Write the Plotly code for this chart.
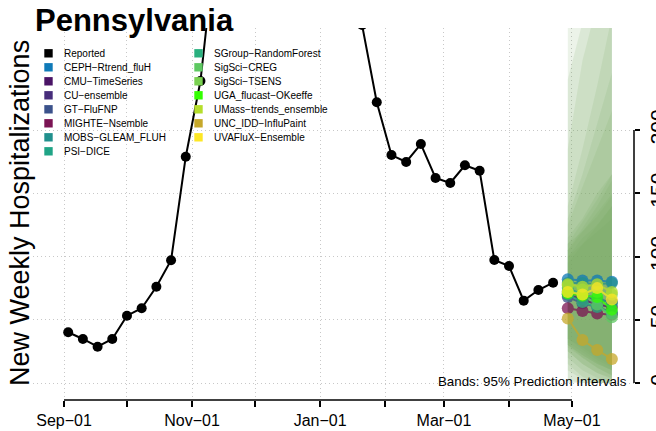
import plotly.graph_objects as go
import pandas as pd

# ---------------- data ----------------
state = "Pennsylvania"
obs_dates = pd.date_range("2022-09-03", "2023-04-22", freq="7D")
obs_values = [40.1, 34.8, 28.7, 34.8, 53.2, 59.1, 76.1, 97.0, 178.9, 238.7,
              344, 450, 560, 690, 760, 700, 610, 520, 430, 360, 283,
              221.9, 180.2, 174.7, 188.9, 162.1, 158.1, 172.1, 167.8,
              97.2, 92.5, 65.1, 73.5, 79.3]

fc_dates = ["2023-04-29", "2023-05-06", "2023-05-13", "2023-05-20"]

models = ["CEPH−Rtrend_fluH", "CMU−TimeSeries", "CU−ensemble", "GT−FluFNP",
          "MIGHTE−Nsemble", "MOBS−GLEAM_FLUH", "PSI−DICE", "SGroup−RandomForest",
          "SigSci−CREG", "SigSci−TSENS", "UGA_flucast−OKeeffe",
          "UMass−trends_ensemble", "UNC_IDD−InfluPaint", "UVAFluX−Ensemble"]
model_colors = ["#0f7ab8", "#4a1466", "#472d7b", "#3b528b", "#7b1454", "#21908d",
                "#20a486", "#2ab07f", "#5ec962", "#7ad151", "#33ff00", "#b5de2b",
                "#c6a82a", "#fde725"]

fc_median = [[82, 81, 81, 80], [70, 66, 62, 60], [72, 68, 66, 64], [68, 63, 60, 56],
             [59, 57, 55, 54], [79, 79, 78, 79], [75, 70, 67, 63], [70, 64, 60, 55],
             [73, 70, 62, 52], [77, 74, 72, 70], [71, 69, 68, 58], [78, 76, 78, 72],
             [51, 34, 26, 19], [72, 70, 75, 66]]
fc_lower = [[30, 22, 15, 10], [25, 15, 8, 3], [30, 22, 15, 10], [15, 5, 0, 0],
            [25, 15, 8, 4], [10, 3, 0, 0], [28, 20, 12, 6], [20, 10, 4, 0],
            [35, 26, 18, 12], [32, 24, 16, 10], [0, 0, 0, 0], [35, 28, 20, 14],
            [2, 0, 0, 0], [30, 20, 12, 6]]
fc_upper = [[125, 155, 185, 215], [105, 120, 135, 150], [100, 115, 125, 140],
            [140, 185, 235, 290], [95, 110, 125, 140], [290, 300, 310, 320],
            [115, 130, 150, 165], [130, 165, 205, 245], [100, 110, 120, 130],
            [110, 128, 145, 165], [185, 255, 300, 340], [110, 120, 132, 148],
            [240, 285, 330, 380], [105, 122, 140, 160]]

month_ticks = pd.date_range("2022-09-01", "2023-05-01", freq="MS")
month_labels = ["Sep−01", "", "Nov−01", "", "Jan−01", "", "Mar−01", "", "May−01"]
y_ticks = [0, 50, 100, 150, 200]
y_labels = ["0", "50", "100", "150", "200"]

# ---------------- layout geometry (pixels) ----------------
W_FIG, H_FIG = 656, 431
L, R, T, B = 33, 634, 28, 400
PW, PH = R - L, B - T


def px(x):
    return (x - L) / PW


def py(y):
    return (B - y) / PH


FONT = "Liberation Sans, Arial, Helvetica, sans-serif"
BAND = "rgba(122,172,96,0.14)"

fig = go.Figure()

# prediction bands
for i, m in enumerate(models):
    fig.add_trace(go.Scatter(
        x=fc_dates + fc_dates[::-1],
        y=fc_upper[i] + fc_lower[i][::-1],
        fill="toself", fillcolor=BAND, line=dict(width=0),
        mode="lines", hoverinfo="skip", showlegend=False))

# reported
fig.add_trace(go.Scatter(
    x=obs_dates, y=obs_values, mode="lines+markers",
    line=dict(color="black", width=2),
    marker=dict(color="black", size=10),
    name="Reported", showlegend=False))

# forecasts
for i, m in enumerate(models):
    fig.add_trace(go.Scatter(
        x=fc_dates, y=fc_median[i], mode="lines+markers",
        line=dict(color=model_colors[i], width=2),
        marker=dict(color=model_colors[i], size=12),
        opacity=0.75, name=m, showlegend=False))

# ---------------- manual legend ----------------
shapes = []
annotations = []
legend_names = ["Reported"] + models
legend_colors = ["black"] + model_colors
for k, (nm, col) in enumerate(zip(legend_names, legend_colors)):
    c = 0 if k < 8 else 1
    r = k if k < 8 else k - 8
    sx = 44.3 if c == 0 else 194.3
    cy = 53.3 + 14 * r
    shapes.append(dict(type="rect", xref="paper", yref="paper",
                       x0=px(sx), x1=px(sx + 8.4), y0=py(cy + 4.2), y1=py(cy - 4.2),
                       fillcolor=col, line=dict(width=0), layer="above"))
    annotations.append(dict(text=nm, xref="paper", yref="paper",
                            x=px(sx + 17.5), y=py(cy), xanchor="left", yanchor="middle",
                            showarrow=False, font=dict(family=FONT, size=10, color="black")))

# axis lines drawn only across tick range (R style)
shapes.append(dict(type="line", xref="x", yref="paper",
                   x0=month_ticks[0], x1=month_ticks[-1], y0=0, y1=0,
                   line=dict(color="black", width=1.5), layer="above"))
shapes.append(dict(type="line", xref="paper", yref="y",
                   x0=1, x1=1, y0=y_ticks[0], y1=y_ticks[-1],
                   line=dict(color="black", width=1.5), layer="above"))

# title
annotations.append(dict(text="<b>" + state + "</b>", xref="paper", yref="paper",
                        x=px(33), y=py(20), xanchor="left", yanchor="middle",
                        showarrow=False, font=dict(family=FONT, size=31, color="black")))
# y title
annotations.append(dict(text="New Weekly Hospitalizations", xref="paper", yref="paper",
                        x=px(20), y=py(213), xanchor="center", yanchor="middle",
                        textangle=-90, showarrow=False,
                        font=dict(family=FONT, size=27, color="black")))
# bands note
annotations.append(dict(text="Bands: 95% Prediction Intervals", xref="paper", yref="paper",
                        x=px(629), y=py(381), xanchor="right", yanchor="middle",
                        showarrow=False, font=dict(family=FONT, size=13.3, color="black")))

fig.update_layout(
    width=W_FIG, height=H_FIG,
    margin=dict(l=L, r=W_FIG - R, t=T, b=H_FIG - B, pad=0),
    plot_bgcolor="white", paper_bgcolor="white",
    showlegend=False,
    shapes=shapes, annotations=annotations,
    xaxis=dict(
        type="date", automargin=False,
        range=["2022-08-17 05:30", "2023-05-30 13:00"],
        tickvals=list(month_ticks), ticktext=month_labels,
        ticks="outside", ticklen=6, tickcolor="black", tickwidth=1.5,
        showline=False, zeroline=False,
        showgrid=True, gridcolor="#c8c8c8", griddash="1px,3px", gridwidth=1,
        tickfont=dict(family=FONT, size=16, color="black"),
    ),
    yaxis=dict(
        side="right", automargin=False,
        range=[-13.44, 280.63],
        tickvals=y_ticks, ticktext=y_labels,
        ticks="outside", ticklen=5, tickcolor="black", tickwidth=1.5,
        tickangle=-90,
        showline=False, zeroline=False,
        showgrid=True, gridcolor="#c8c8c8", griddash="1px,3px", gridwidth=1,
        tickfont=dict(family=FONT, size=21, color="black"),
    ),
)

fig.write_html("out.html", config={"displayModeBar": False},
               post_script="document.body.style.margin='0';document.body.style.overflow='hidden';")
